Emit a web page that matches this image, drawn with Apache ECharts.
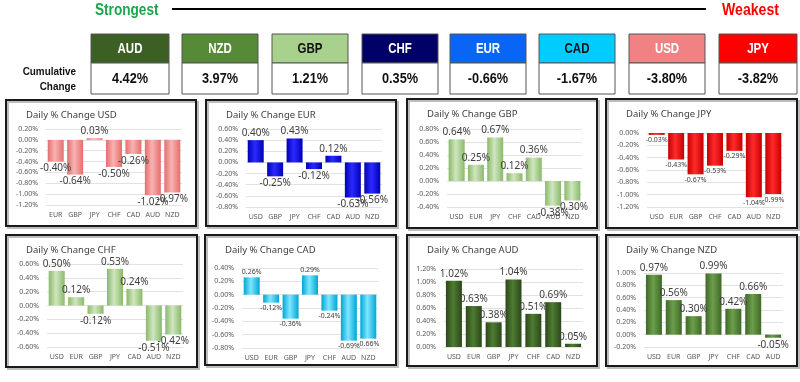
<!DOCTYPE html>
<html><head><meta charset="utf-8">
<script src="https://cdn.jsdelivr.net/npm/echarts@6/dist/echarts.min.js"></script>
<style>html,body{margin:0;padding:0;background:#fff}#c{width:800px;height:382px}</style>
</head><body><div id="c"></div>
<script>
// ---- data ----
const rankCurrencies = ['AUD','NZD','GBP','CHF','EUR','CAD','USD','JPY'];
const cumulative = [4.42, 3.97, 1.21, 0.35, -0.66, -1.67, -3.80, -3.82];

const usdCats = ['EUR','GBP','JPY','CHF','CAD','AUD','NZD'];
const usdVals = [-0.40,-0.64,0.03,-0.50,-0.26,-1.02,-0.97];
const eurCats = ['USD','GBP','JPY','CHF','CAD','AUD','NZD'];
const eurVals = [0.40,-0.25,0.43,-0.12,0.12,-0.63,-0.56];
const gbpCats = ['USD','EUR','JPY','CHF','CAD','AUD','NZD'];
const gbpVals = [0.64,0.25,0.67,0.12,0.36,-0.38,-0.30];
const jpyCats = ['USD','EUR','GBP','CHF','CAD','AUD','NZD'];
const jpyVals = [-0.03,-0.43,-0.67,-0.53,-0.29,-1.04,-0.99];
const chfCats = ['USD','EUR','GBP','JPY','CAD','AUD','NZD'];
const chfVals = [0.50,0.12,-0.12,0.53,0.24,-0.51,-0.42];
const cadCats = ['USD','EUR','GBP','JPY','CHF','AUD','NZD'];
const cadVals = [0.26,-0.12,-0.36,0.29,-0.24,-0.69,-0.66];
const audCats = ['USD','EUR','GBP','JPY','CHF','CAD','NZD'];
const audVals = [1.02,0.63,0.38,1.04,0.51,0.69,0.05];
const nzdCats = ['USD','EUR','GBP','JPY','CHF','CAD','AUD'];
const nzdVals = [0.97,0.56,0.30,0.99,0.42,0.66,-0.05];

const usdRange = [-1.2, 0.2];
const eurRange = [-0.8, 0.6];
const gbpRange = [-0.4, 0.8];
const jpyRange = [-1.2, 0];
const chfRange = [-0.6, 0.6];
const cadRange = [-0.8, 0.4];
const audRange = [0, 1.2];
const nzdRange = [-0.2, 1.0];

// ---- layout / style ----
const COND = '"Liberation Sans","Arial",sans-serif';
const BODY = '"Noto Sans","Open Sans",sans-serif';
const headColors = ['#3c5f24','#578a37','#a9d18e','#000066','#0a64f5','#00ccff','#f08283','#ff0000'];
const headText = ['#fff','#fff','#111','#fff','#fff','#111','#fff','#fff'];
const boxX = [91,182,272,362,450,539,629,719];

function grad(edge, mid){
  return new echarts.graphic.LinearGradient(0,0,1,0,[
    {offset:0,color:edge},{offset:0.45,color:mid},{offset:1,color:edge}]);
}
const panels = [
  {name:'USD', cats:usdCats, vals:usdVals, range:usdRange, grid:{left:46,top:129,width:136,height:76}, box:[6,100,190,126], col:grad('#e86d6d','#f7b3b3'), fs:10},
  {name:'EUR', cats:eurCats, vals:eurVals, range:eurRange, grid:{left:246,top:129,width:136,height:78}, box:[206,100,190,126], col:grad('#0000b8','#2a2aff'), fs:10},
  {name:'GBP', cats:gbpCats, vals:gbpVals, range:gbpRange, grid:{left:447,top:129,width:135,height:78}, box:[407,99,190,129], col:grad('#8ab96a','#cfe6bf'), fs:10},
  {name:'JPY', cats:jpyCats, vals:jpyVals, range:jpyRange, grid:{left:647,top:133,width:136,height:74}, box:[606,99,191,129], col:grad('#c80000','#ff2a2a'), fs:7},
  {name:'CHF', cats:chfCats, vals:chfVals, range:chfRange, grid:{left:47,top:264,width:136,height:83}, box:[6,235,191,132], col:grad('#8ab96a','#cfe6bf'), fs:10},
  {name:'CAD', cats:cadCats, vals:cadVals, range:cadRange, grid:{left:242,top:268,width:136,height:80}, box:[205,235,191,130], col:grad('#00a6d6','#7fe6ff'), fs:7},
  {name:'AUD', cats:audCats, vals:audVals, range:audRange, grid:{left:444,top:269,width:139,height:78}, box:[407,235,190,131], col:grad('#2b4819','#4f7b32'), fs:10},
  {name:'NZD', cats:nzdCats, vals:nzdVals, range:nzdRange, grid:{left:644,top:273,width:139,height:74}, box:[606,235,191,131], col:grad('#3f6827','#6c9f4a'), fs:10}
];

const grids=[], xAxes=[], yAxes=[], series=[], titles=[], graphics=[];
panels.forEach((p,i)=>{
  grids.push(p.grid);
  xAxes.push({type:'category', gridIndex:i, data:p.cats,
    axisLine:{show:false,onZero:false}, axisTick:{show:false},
    axisLabel:{fontSize:7, color:'#595959', margin:6, fontFamily:BODY, interval:0}});
  yAxes.push({type:'value', gridIndex:i, min:p.range[0], max:p.range[1], interval:0.2,
    axisLine:{show:false}, axisTick:{show:false},
    splitLine:{lineStyle:{color:'#e2e2e2',width:1}},
    axisLabel:{fontSize:7, color:'#595959', margin:8, fontFamily:BODY,
      formatter:v=>v.toFixed(2)+'%'}});
  series.push({type:'bar', xAxisIndex:i, yAxisIndex:i, barWidth:16,
    itemStyle:{color:p.col},
    label:{show:true, fontSize:p.fs, color:'#404040', fontFamily:BODY, distance:2,
      formatter:o=>o.value.toFixed(2)+'%'},
    data:p.vals.map(v=>({value:v, label:{position: v>=0?'top':'bottom'}}))});
  titles.push({text:'Daily % Change '+p.name, left:p.box[0]+15, top:p.box[1]+5,
    textStyle:{fontSize:9.5, fontWeight:'normal', color:'#404040', fontFamily:BODY}});
  graphics.push({type:'rect', shape:{x:p.box[0]+2,y:p.box[1]+2,width:p.box[2],height:p.box[3]},
    style:{fill:'rgba(0,0,0,0)', stroke:'#bdbdbd', lineWidth:2}, silent:true, z:-1});
  graphics.push({type:'rect', shape:{x:p.box[0],y:p.box[1],width:p.box[2],height:p.box[3]},
    style:{fill:'rgba(0,0,0,0)', stroke:'#1a1a1a', lineWidth:2}, silent:true});
});

function ctext(x, y, text, fill, font, align, sx, vAlign){
  return {type:'text', x:x, y:y, scaleX:sx, originX:0, originY:0,
    style:{x:0, y:0, text:text, fill:fill, font:font, align:align, verticalAlign:vAlign||'top'}};
}
// header strip
graphics.push(ctext(95, 2, 'Strongest', '#1aa64a', 'bold 17px '+COND, 'left', 0.8));
graphics.push({type:'line', shape:{x1:172,y1:9,x2:706,y2:9}, style:{stroke:'#000',lineWidth:2}});
graphics.push(ctext(722, 2, 'Weakest', '#ff0000', 'bold 17px '+COND, 'left', 0.83));
graphics.push(ctext(76, 66, 'Cumulative', '#111', 'bold 11px '+COND, 'right', 0.9));
graphics.push(ctext(76, 81, 'Change', '#111', 'bold 11px '+COND, 'right', 0.9));
rankCurrencies.forEach((c,i)=>{
  const x=boxX[i], w=i===0||i===7?78:76;
  graphics.push({type:'rect', shape:{x:x,y:34,width:w,height:29}, style:{fill:headColors[i], stroke:'#555', lineWidth:1}});
  graphics.push({type:'rect', shape:{x:x,y:63,width:w,height:31}, style:{fill:'#fff', stroke:'#555', lineWidth:1}});
  graphics.push(ctext(x+w/2, 49, c, headText[i], 'bold 14px '+COND, 'center', 0.82, 'middle'));
  graphics.push(ctext(x+w/2, 79, cumulative[i].toFixed(2)+'%', '#111', 'bold 15px '+COND, 'center', 0.85, 'middle'));
});

const chart = echarts.init(document.getElementById('c'), null, {renderer:'canvas'});
chart.setOption({
  animation:false,
  backgroundColor:'#fff',
  title:titles, grid:grids, xAxis:xAxes, yAxis:yAxes, series:series,
  graphic:graphics
});
</script></body></html>
